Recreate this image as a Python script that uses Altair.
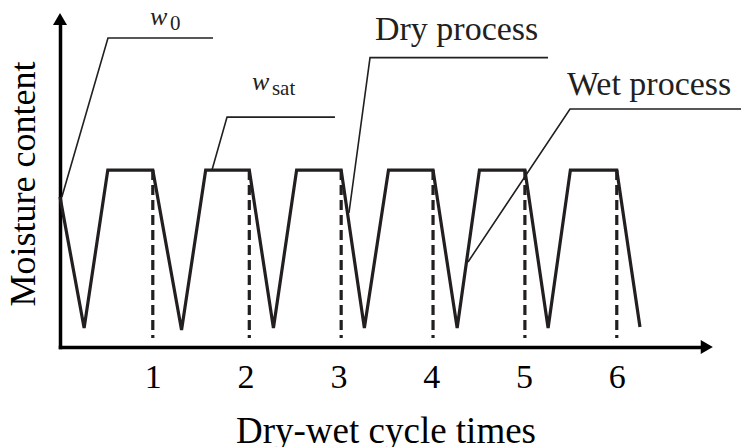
import altair as alt
import pandas as pd

FONT = "Liberation Serif"

# main moisture curve
line_x = [0.0, 0.26, 0.515, 1.0, 1.31, 1.57, 2.04, 2.30, 2.55, 3.03, 3.28, 3.54,
          4.02, 4.28, 4.52, 5.01, 5.26, 5.50, 6.0, 6.25]
line_y = [4.59, 0.58, 5.41, 5.41, 0.52, 5.41, 5.41, 0.58, 5.41, 5.41, 0.58, 5.41,
          5.41, 0.58, 5.41, 5.41, 0.58, 5.41, 5.41, 0.61]

# dashed cycle boundaries (drawn at the end of each saturated plateau)
cycles = [1, 2, 3, 4, 5, 6]
dash_x = [1.0, 2.04, 3.03, 4.02, 5.01, 6.0]
dash_top = 5.41
dash_bottom = 0.275

# leader lines for annotations
leader_names = ["w0", "wsat", "dry", "wet"]
leader_x = [[0.02, 0.517, 1.649], [1.638, 1.80, 2.963],
            [3.114, 3.341, 5.259], [4.397, 5.496, 7.414]]
leader_y = [[4.59, 9.45, 9.45], [5.41, 7.03, 7.03],
            [4.10, 8.85, 8.85], [2.60, 7.28, 7.28]]

# annotation texts
label_text = ["w", "0", "w", "sat", "Dry process", "Wet process"]
label_x = [0.97, 1.185, 2.069, 2.284, 3.394, 5.463]
label_y = [9.86, 9.70, 7.86, 7.71, 9.39, 7.71]
label_size = [26, 21, 26, 21, 34, 34]
label_italic = [True, False, True, False, False, False]

# axis arrow heads
arrow_x = [0.0, 6.97]
arrow_y = [10.03, 0.0]
arrow_shape = ["triangle-up", "triangle-right"]

df_line = pd.DataFrame({"x": line_x, "y": line_y, "i": range(len(line_x))})
df_dash = pd.DataFrame({"x": dash_x, "y": [dash_top] * len(dash_x), "y2": [dash_bottom] * len(dash_x)})
rows = []
for n, xs_, ys_ in zip(leader_names, leader_x, leader_y):
    for k, (a, b) in enumerate(zip(xs_, ys_)):
        rows.append({"g": n, "x": a, "y": b, "i": k})
df_lead = pd.DataFrame(rows)
df_lab = pd.DataFrame({"t": label_text, "x": label_x, "y": label_y,
                       "s": label_size, "it": label_italic})
df_arrow = pd.DataFrame({"x": arrow_x, "y": arrow_y, "shape": arrow_shape})

xs = alt.Scale(domain=[0, 6.94], nice=False, zero=False)
ys = alt.Scale(domain=[0, 10], nice=False, zero=False)

xaxis = alt.Axis(values=cycles, format="d", grid=False, ticks=False, tickSize=0,
                 domainColor="black", domainWidth=3.5, domainCap="square",
                 labelFont=FONT, labelFontSize=34, labelColor="black",
                 labelBaseline="alphabetic", labelPadding=40,
                 title="Dry-wet cycle times", titleFont=FONT, titleFontSize=37,
                 titleFontWeight="normal", titleColor="black",
                 titleBaseline="alphabetic", titleY=95, titleX=325.5, titleAlign="center")
yaxis = alt.Axis(labels=False, grid=False, ticks=False, tickSize=0,
                 domainColor="black", domainWidth=3.5, domainCap="square",
                 title="Moisture content", titleFont=FONT, titleFontSize=36,
                 titleFontWeight="normal", titleColor="black", titleAngle=270,
                 titleBaseline="alphabetic", titleX=-26, titleY=163.5, titleAlign="center")

X = alt.X("x:Q", scale=xs, axis=xaxis)
Y = alt.Y("y:Q", scale=ys, axis=yaxis)

curve = alt.Chart(df_line).mark_line(color="#231f20", strokeWidth=3.2, strokeJoin="miter").encode(
    x=X, y=Y, order="i:Q")

dashed = alt.Chart(df_dash).mark_rule(color="#231f20", strokeWidth=3.2, strokeDash=[10, 5]).encode(
    x=X, y=Y, y2="y2:Q")

leaders = alt.Chart(df_lead).mark_line(color="#231f20", strokeWidth=1.6).encode(
    x=X, y=Y, detail="g:N", order="i:Q")

def text_layer(italic):
    return alt.Chart(df_lab).transform_filter(
        alt.datum.it if italic else ~alt.datum.it
    ).mark_text(align="left", baseline="alphabetic", font=FONT, color="#231f20",
                fontStyle="italic" if italic else "normal").encode(
        x=X, y=Y, text="t:N",
        size=alt.Size("s:Q", scale=None, legend=None))

arrows = alt.Chart(df_arrow).mark_point(filled=True, size=196, color="black", opacity=1).encode(
    x=X, y=Y, shape=alt.Shape("shape:N", scale=None, legend=None))

chart = alt.layer(dashed, curve, leaders, text_layer(True), text_layer(False), arrows).properties(
    width=644, height=327,
    autosize=alt.AutoSizeParams(type="none"),
    padding={"left": 52, "top": 12, "right": 37, "bottom": 100},
    background="white",
).configure_view(stroke=None)

chart.save("out.html", embed_options={"renderer": "svg", "actions": False})
